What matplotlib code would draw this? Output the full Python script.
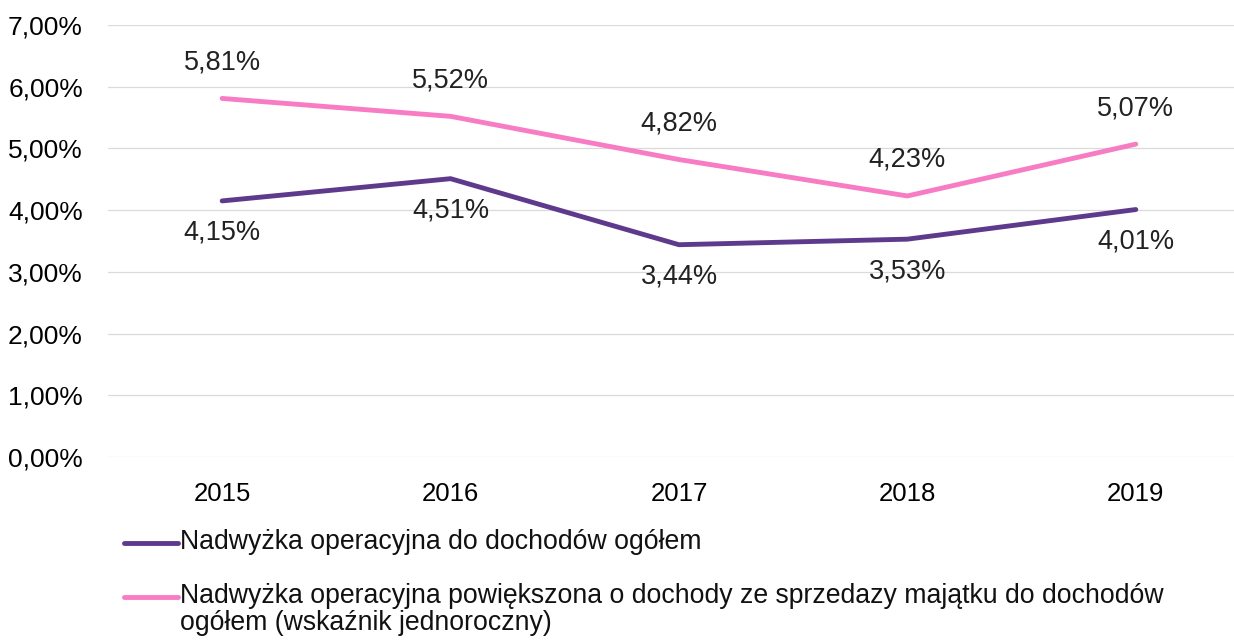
import numpy as np
import matplotlib.pyplot as plt
from matplotlib.lines import Line2D

years = ["2015", "2016", "2017", "2018", "2019"]
nadwyzka = [4.15, 4.51, 3.44, 3.53, 4.01]
nadwyzka_plus = [5.81, 5.52, 4.82, 4.23, 5.07]
labels = ["Nadwyżka operacyjna do dochodów ogółem",
          "Nadwyżka operacyjna powiększona o dochody ze sprzedazy majątku do dochodów\nogółem (wskaźnik jednoroczny)"]

plt.rcParams['font.family'] = ['Liberation Sans', 'DejaVu Sans']

W, H = 1234, 641
fig = plt.figure(figsize=(W / 100, H / 100), dpi=100)
ax = fig.add_axes([0.0875, 0.287, 0.9125, 0.674])

x = np.arange(len(years))
purple = '#5e3a8c'
pink = '#f77cc4'
ax.plot(x, nadwyzka, color=purple, lw=3.5, solid_capstyle='round', zorder=3)
ax.plot(x, nadwyzka_plus, color=pink, lw=3.5, solid_capstyle='round', zorder=3)

fmt = lambda v: f"{v:.2f}%".replace('.', ',')
for xi, v in zip(x, nadwyzka_plus):
    ax.annotate(fmt(v), (xi, v), xytext=(0, 26), textcoords='offset points',
                ha='center', va='center', fontsize=19.5, color='#222222')
for xi, v in zip(x, nadwyzka):
    ax.annotate(fmt(v), (xi, v), xytext=(0, -23), textcoords='offset points',
                ha='center', va='center', fontsize=19.5, color='#222222')

ax.set_ylim(0, 7)
ax.set_xlim(-0.5, 4.43)
ax.set_yticks(np.arange(0, 8, 1))
ax.set_yticklabels([fmt(v) for v in range(8)], fontsize=19)
ax.set_xticks(x)
ax.set_xticklabels(years, fontsize=18.5)
ax.tick_params(axis='x', length=0, pad=18)
ax.tick_params(axis='y', length=0, pad=18)
ax.grid(axis='y', color='#dadada', lw=0.9)
ax.set_axisbelow(True)
for s in ax.spines.values():
    s.set_visible(False)

# legend drawn by hand so the handle sits on the first text line
leg = [(purple, labels[0], 543), (pink, labels[1], 597)]
for col, txt, yp in leg:
    fig.add_artist(Line2D([124 / W, 178 / W], [1 - yp / H, 1 - yp / H], color=col,
                          lw=3.5, solid_capstyle='round', transform=fig.transFigure))
    fig.text(180 / W, 1 - (yp - 14) / H, txt, fontsize=19.2, ha='left', va='top',
             linespacing=1.05, color='#111111')

fig.savefig("out.png", dpi=100)
